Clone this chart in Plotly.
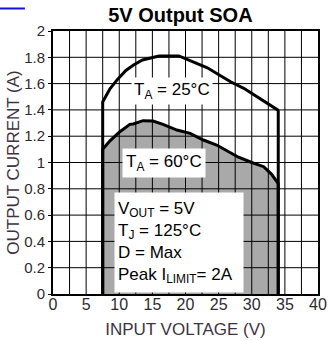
import plotly.graph_objects as go

# Safe operating area, 5 V output
v_25 = [7.5, 7.5, 8.6, 9.7, 11.0, 12.1, 13.5, 15.0, 16.0, 19.0, 20.8, 23.3, 25.1, 26.8, 28.8, 30.8, 32.5, 33.9, 34.0, 34.0]
i_25 = [0.0, 1.46, 1.56, 1.63, 1.70, 1.74, 1.78, 1.80, 1.81, 1.81, 1.77, 1.72, 1.665, 1.614, 1.564, 1.50, 1.445, 1.40, 1.39, 0.0]

v_60 = [7.5, 7.5, 8.6, 10.1, 11.6, 12.1, 13.6, 15.1, 16.6, 18.7, 20.7, 22.7, 24.7, 26.2, 28.0, 30.0, 31.8, 33.0, 34.0, 34.0]
i_60 = [0.0, 1.10, 1.165, 1.234, 1.29, 1.293, 1.318, 1.315, 1.29, 1.247, 1.222, 1.171, 1.133, 1.09, 1.04, 1.0, 0.968, 0.91, 0.84, 0.0]

x_ticks = [0, 5, 10, 15, 20, 25, 30, 35, 40]
y_ticks = [0, 0.2, 0.4, 0.6, 0.8, 1.0, 1.2, 1.4, 1.6, 1.8, 2.0]
y_tick_text = ["0", "0.2", "0.4", "0.6", "0.8", "1", "1.2", "1.4", "1.6", "1.8", "2"]
x_grid = [2.5 * k for k in range(1, 16)]
y_grid = y_ticks[1:-1]

X_MAX, Y_MAX = 40, 2

x_tick_font = dict(family="Liberation Sans, Arial", size=16, color="#2e2a30")
y_tick_font = dict(family="Liberation Sans, Arial", size=15, color="#2e2a30")
title_font = dict(family="Liberation Sans, Arial", size=17, color="#3d3442")

fig = go.Figure()

# shaded area under the 60 °C limit
fig.add_trace(go.Scatter(x=v_60, y=i_60, mode="lines", fill="toself",
                         fillcolor="#a9a9a9", line=dict(width=0),
                         hoverinfo="skip", showlegend=False))

# grid drawn on top of the shading
gx, gy = [], []
for xv in x_grid:
    gx += [xv, xv, None]
    gy += [0, Y_MAX, None]
for yv in y_grid:
    gx += [0, X_MAX, None]
    gy += [yv, yv, None]
fig.add_trace(go.Scatter(x=gx, y=gy, mode="lines", line=dict(color="black", width=1),
                         hoverinfo="skip", showlegend=False))

fig.add_trace(go.Scatter(x=v_25, y=i_25, mode="lines", line=dict(color="black", width=3),
                         showlegend=False))
fig.add_trace(go.Scatter(x=v_60, y=i_60, mode="lines", line=dict(color="black", width=3),
                         showlegend=False))

ann_font = dict(family="Liberation Sans, Arial", size=17, color="black")
fig.add_annotation(x=18.0, y=1.54, text="T<sub>A</sub> = 25°C", showarrow=False,
                   bgcolor="white", font=ann_font, borderpad=2)
fig.add_annotation(x=16.7, y=1.0, text="T<sub>A</sub> = 60°C", showarrow=False,
                   bgcolor="white", font=ann_font, borderpad=3)
fig.add_annotation(x=19.0, y=0.392,
                   text="V<sub>OUT</sub> = 5V<br>T<sub>J</sub> = 125°C<br>D = Max<br>Peak I<sub>LIMIT</sub>= 2A",
                   showarrow=False, bgcolor="white", font=ann_font, align="left",
                   width=122, height=93, borderpad=3)

# link underline fragment in the top-left corner
fig.add_shape(type="line", xref="paper", yref="paper", x0=-0.2, x1=-0.106,
              y0=1.0856, y1=1.0856, line=dict(color="#1010e0", width=2))

fig.update_layout(
    width=328, height=340,
    margin=dict(l=53, r=10, t=31, b=46),
    paper_bgcolor="white", plot_bgcolor="white",
    title=dict(text="<b>5V Output SOA</b>", x=0.55, xanchor="center", y=0.955, yanchor="middle",
               font=dict(family="Liberation Sans, Arial", size=20, color="black")),
    xaxis=dict(range=[0, X_MAX], tickvals=x_ticks, ticktext=[str(v) for v in x_ticks],
               showgrid=False, zeroline=False, showline=True, linewidth=2, linecolor="black",
               mirror=True, ticks="", ticklen=0, tickfont=x_tick_font, automargin=False,
               ticklabelstandoff=-5,
               title=dict(text="INPUT VOLTAGE (V)", font=title_font, standoff=11)),
    yaxis=dict(range=[0, Y_MAX], tickvals=y_ticks, ticktext=y_tick_text,
               showgrid=False, zeroline=False, showline=True, linewidth=2, linecolor="black",
               mirror=True, ticks="outside", ticklen=3, tickcolor="black", tickfont=y_tick_font,
               ticklabelstandoff=0, automargin=False,
               title=dict(text="OUTPUT CURRENT (A)", font=title_font, standoff=0)),
)

fig.write_html("out.html")
